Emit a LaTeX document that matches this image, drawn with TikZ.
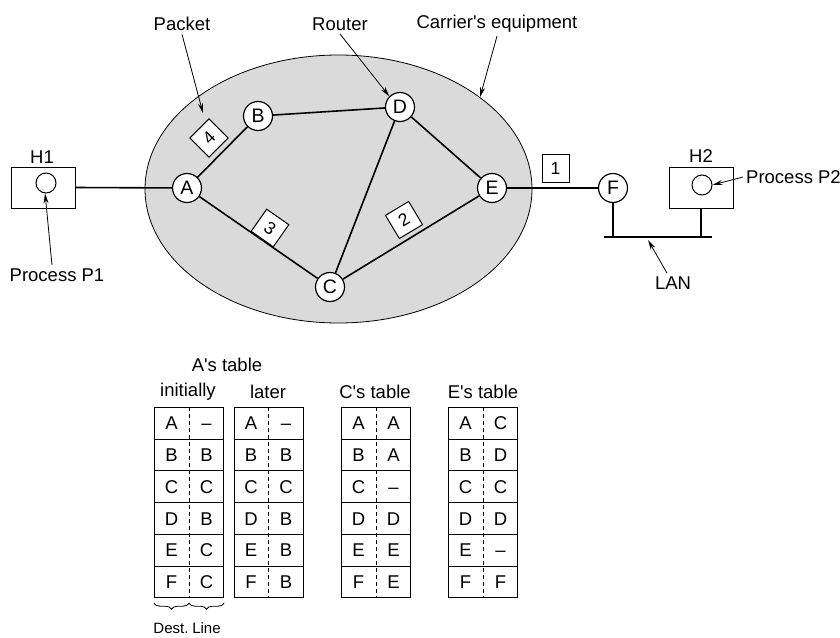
\documentclass[tikz,border=0pt]{standalone}
\usepackage{fontspec}
\newfontfamily\labfont{Liberation Sans}
\usetikzlibrary{shapes.geometric,arrows.meta,decorations.pathreplacing,calc}
\definecolor{netgray}{RGB}{218,218,218}
\newcommand{\routetable}[3]{%
  \foreach \dst/\lin [count=\i] in {#3} {
    \node[cell, anchor=north west] (#1row\i) at (#2,{407+31.7*(\i-1)}) {};
    \node[celltext] (#1dst\i) at ($(#1row\i.west)+(17.5,0)$) {\dst};
    \node[celltext] (#1lin\i) at ($(#1row\i.east)+(-17.5,0)$) {\lin};
  }
  \draw[divider] (#1row1.north) -- (#1row6.south);
}
\begin{document}
\begin{tikzpicture}[x=1pt,y=-1pt,
  font=\labfont\fontsize{18.5}{22}\selectfont,
  router/.style={circle, draw, line width=1.2pt, fill=white, minimum size=29pt, inner sep=0pt, font=\labfont\fontsize{19.5}{22}\selectfont},
  link/.style={line width=1.6pt},
  pkt/.style={rectangle, draw, line width=1pt, fill=white, minimum size=27pt, inner sep=0pt, font=\labfont\fontsize{17.5}{20}\selectfont},
  host/.style={rectangle, draw, line width=1pt, minimum width=64pt, minimum height=41pt, inner sep=0pt},
  proc/.style={circle, draw, line width=1pt, minimum size=20pt, inner sep=0pt},
  ptr/.style={-{Stealth[length=10pt,width=5pt]}, line width=0.8pt},
  cell/.style={rectangle, draw, line width=1pt, minimum width=69pt, minimum height=31.7pt, inner sep=0pt},
  celltext/.style={text height=13.2pt, text depth=0pt, inner sep=0pt},
  divider/.style={line width=0.9pt, dash pattern=on 4pt off 3pt},
  lanbus/.style={line width=2pt}
]
\useasboundingbox (0,0) rectangle (840,637);

% carrier network
\node[ellipse, draw, fill=netgray, line width=0.8pt, minimum width=387pt, minimum height=268pt, inner sep=0pt] (net) at (338.5,189) {};

% routers
\node[router] (A) at (187,188) {A};
\node[router] (B) at (258,116) {B};
\node[router] (D) at (400,107) {D};
\node[router] (C) at (330,287) {C};
\node[router] (E) at (492,188) {E};
\node[router] (F) at (613,188) {F};

% hosts
\node[host] (h1box) at (43,187.5) {};
\node[proc] (h1p) at (46,183) {};
\node[host] (h2box) at (701,187.5) {};
\node[proc] (h2p) at (702,185) {};

% links
\draw[link] (h1box.east) -- (A);
\draw[link] (A) -- (B);
\draw[link] (B) -- (D);
\draw[link] (D) -- (C);
\draw[link] (D) -- (E);
\draw[link] (A) -- (C);
\draw[link] (C) -- (E);
\draw[link] (E) -- (F);

% LAN
\coordinate (lanL) at (604,237);
\coordinate (lanR) at (712,237);
\coordinate (lanpt) at (648,240);
\draw[lanbus] (lanL) -- (lanR);
\draw[lanbus] (F.south) -- (F.south |- lanL);
\draw[lanbus] (h2box.south) -- (h2box.south |- lanL);

% packets
\node[pkt, rotate=45] (p4) at (209,138) {4};
\node[pkt, rotate=-35] (p3) at (270,228) {3};
\node[pkt, rotate=31] (p2) at (404,220) {2};
\node[pkt, minimum width=27pt, minimum height=28pt] (p1) at (555.5,168.5) {1};

% labels
\node (lblPacket) at (182,24) {Packet};
\node (lblRouter) at (340,24) {Router};
\node (lblCarrier) at (497,24) {Carrier's equipment};
\node (lblH1) at (42,157) {H1};
\node (lblH2) at (701,156) {H2};
\node (lblP1) at (57,275) {Process P1};
\node[anchor=west, inner sep=0pt] (lblP2) at (746,177) {Process P2};
\node (lblLAN) at (673,283) {LAN};

% pointer arrows
\draw[ptr] (lblPacket.south) -- ($(p4.north east)+(-6,-5)$);
\draw[ptr] (lblRouter.south) -- (D.north west);
\draw[ptr] (lblCarrier.south) -- (net.33.6);
\draw[ptr] ([xshift=-5pt]lblP1.north) -- (h1p.-95);
\draw[ptr] ([xshift=-3pt]lblP2.west) -- (h2p.east);
\draw[ptr] ([xshift=-6pt]lblLAN.north) -- (lanpt);

% tables
\node (hdA) at (227,365) {A's table};
\node (hdInit) at (188,392) {initially};
\node (hdLater) at (268,392) {later};
\node (hdC) at (375,392) {C's table};
\node (hdE) at (483,392) {E's table};

\routetable{ti}{154}{A/–,B/B,C/C,D/B,E/C,F/C}
\routetable{tl}{233.5}{A/–,B/B,C/C,D/B,E/B,F/B}
\routetable{tc}{341}{A/A,B/A,C/–,D/D,E/E,F/E}
\routetable{te}{448}{A/C,B/D,C/C,D/D,E/–,F/F}

% braces
\coordinate (brL) at ($(tirow6.south west)+(0,5)$);
\coordinate (brM) at ($(tirow6.south)+(0,5)$);
\coordinate (brR) at ($(tirow6.south east)+(0,5)$);
\draw[line width=0.8pt, decorate, decoration={brace, mirror, amplitude=6pt}] (brL) -- (brM);
\draw[line width=0.8pt, decorate, decoration={brace, mirror, amplitude=6pt}] (brM) -- (brR);
\node[font=\labfont\fontsize{15}{18}\selectfont] (lblDest) at (171,628) {Dest.};
\node[font=\labfont\fontsize{15}{18}\selectfont] (lblLine) at (206.5,628) {Line};
\end{tikzpicture}
\end{document}
